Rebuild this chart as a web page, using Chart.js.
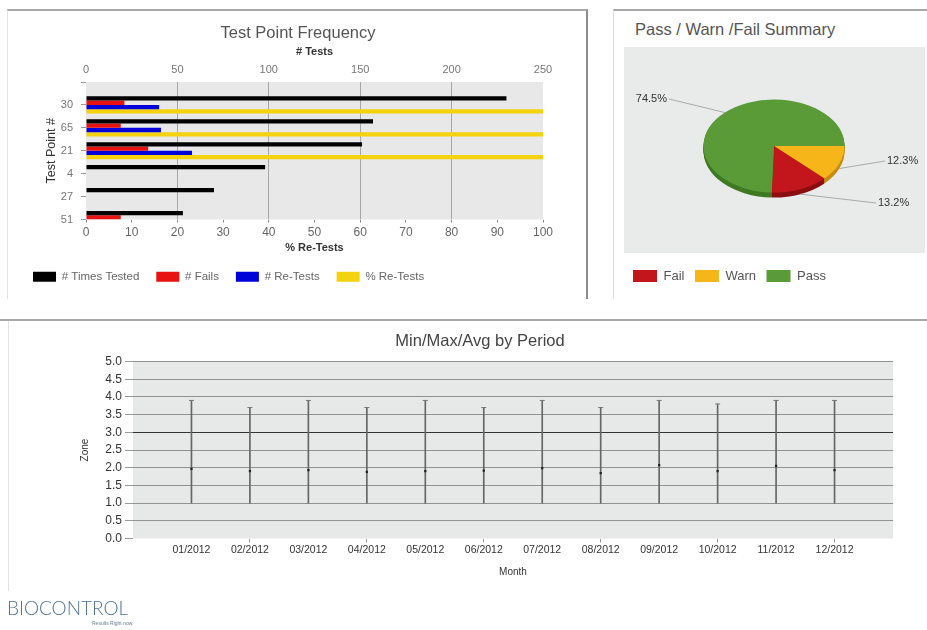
<!DOCTYPE html>
<html>
<head>
<meta charset="utf-8">
<script src="https://cdn.jsdelivr.net/npm/chart.js@4.4.1/dist/chart.umd.min.js"></script>
<style>
  html, body { margin: 0; padding: 0; }
  body { width: 927px; height: 630px; position: relative; background: #fff; overflow: hidden; font-family: "Liberation Sans", Arial, sans-serif; }
  .abs { position: absolute; }
</style>
</head>
<body>
<div class="abs" style="left:7px;top:9px;width:578px;height:288px;border-top:2px solid #a8a8a8;border-right:2px solid #8c8c8c;border-left:1px solid #e2e2e2;"></div>
<div class="abs" style="left:613px;top:9px;width:314px;height:288px;border-top:2px solid #a8a8a8;border-left:1px solid #dedede;"></div>
<div class="abs" style="left:0px;top:319px;width:927px;height:0px;border-top:2px solid #aaaaaa;"></div>
<div class="abs" style="left:8px;top:321px;width:0px;height:270px;border-left:1px solid #e2e2e2;"></div>
<div class="abs" style="left:624px;top:47px;width:301px;height:206px;background:#e9eaea;"></div>
<div class="abs" style="left:635px;top:19px;font-size:16.5px;line-height:20px;color:#555;white-space:nowrap;">Pass / Warn /Fail Summary</div>
<canvas id="c1" class="abs" style="left:8px;top:11px" width="578" height="288"></canvas>
<canvas id="c2" class="abs" style="left:614px;top:11px" width="313" height="290"></canvas>
<canvas id="c3" class="abs" style="left:8px;top:321px" width="919" height="279"></canvas>
<div class="abs" style="left:7px;top:597px;font-family:Lato,'Open Sans',sans-serif;font-weight:300;font-size:19px;line-height:22px;color:#4f7294;white-space:nowrap;">BIOCONTROL</div>
<div class="abs" style="left:92px;top:620px;font-size:5px;line-height:6px;color:#6a7f95;white-space:nowrap;">Results Right now.</div>
<script>
// ---------- Test Point Frequency ----------
const testPoints = ['30', '65', '21', '4', '27', '51'];
const timesTested = [230, 157, 151, 98, 70, 53];
const fails = [21, 19, 34, 0, 0, 19];
const reTests = [40, 41, 58, 0, 0, 0];
const pctReTests = [100, 100, 100, 0, 0, 0];

// ---------- Pass / Warn / Fail ----------
const pieLabels = ['Warn', 'Fail', 'Pass'];
const pieValues = [12.3, 13.2, 74.5];
const legendOrder = ['Fail', 'Warn', 'Pass'];

// ---------- Min/Max/Avg by Period ----------
const months = ['01/2012', '02/2012', '03/2012', '04/2012', '05/2012', '06/2012',
                '07/2012', '08/2012', '09/2012', '10/2012', '11/2012', '12/2012'];
const minZone = [1.0, 1.0, 1.0, 1.0, 1.0, 1.0, 1.0, 1.0, 1.0, 1.0, 1.0, 1.0];
const maxZone = [3.9, 3.7, 3.9, 3.7, 3.9, 3.7, 3.9, 3.7, 3.9, 3.8, 3.9, 3.9];
const avgZone = [1.97, 1.9, 1.93, 1.88, 1.9, 1.92, 1.99, 1.85, 2.07, 1.9, 2.05, 1.93];

Chart.defaults.font.family = '"Liberation Sans", Arial, sans-serif';
Chart.defaults.animation = false;

const plotBg = {
  id: 'plotBg',
  beforeDraw(chart, args, opts) {
    const { ctx, chartArea: a } = chart;
    ctx.save();
    ctx.fillStyle = opts.color || '#e8e8e8';
    ctx.fillRect(a.left, a.top, a.width, a.height);
    ctx.restore();
  }
};

const clear = 'rgba(0,0,0,0)';

new Chart(document.getElementById('c1'), {
  type: 'bar',
  data: {
    labels: [''].concat(testPoints),
    datasets: [
      { label: '# Times Tested', data: [null].concat(timesTested), backgroundColor: '#000000', xAxisID: 'x2' },
      { label: '# Fails', data: [null].concat(fails), backgroundColor: '#e81212', xAxisID: 'x2' },
      { label: '# Re-Tests', data: [null].concat(reTests), backgroundColor: '#0000d8', xAxisID: 'x2' },
      { label: '% Re-Tests', data: [null].concat(pctReTests), backgroundColor: '#f5d20e', xAxisID: 'x' }
    ]
  },
  options: {
    indexAxis: 'y',
    responsive: false,
    categoryPercentage: 0.75,
    barPercentage: 1,
    layout: { padding: { left: 8, right: 6, top: 12.1, bottom: 6.5 } },
    plugins: {
      title: { display: true, text: 'Test Point Frequency', font: { size: 16.5, weight: 'normal' }, color: '#555', padding: 0 },
      legend: { position: 'bottom', align: 'start',
        labels: { boxWidth: 23, boxHeight: 10, padding: 17, font: { size: 11.5 }, color: '#666' } },
      tooltip: { enabled: false },
      plotBg: { color: '#e8e8e8' }
    },
    scales: {
      y: {
        type: 'category', offset: false,
        grid: { offset: false, drawOnChartArea: false, tickLength: 5, tickColor: '#999' },
        border: { display: false },
        ticks: { padding: 8, font: { size: 11 }, color: '#777' },
        title: { display: true, text: 'Test Point #', font: { size: 12.5 }, color: '#333', padding: { top: 28, bottom: 0 } },
        afterFit: s => { s.width = 70; }
      },
      x2: {
        type: 'linear', position: 'top', min: 0, max: 250,
        ticks: { stepSize: 50, padding: 5.4, font: { size: 11 }, color: '#777' },
        grid: { drawTicks: false, color: c => (c.tick && (c.tick.value === 0 || c.tick.value === 250)) ? clear : '#a6a6a6' },
        border: { display: false },
        title: { display: true, text: '# Tests', font: { size: 11, weight: 'bold' }, color: '#333', padding: { top: 2.5, bottom: 0 } },
        afterFit: s => { s.height = 39.1; }
      },
      x: {
        type: 'linear', position: 'bottom', min: 0, max: 100,
        ticks: { stepSize: 10, padding: 2.8, font: { size: 12 }, color: '#666' },
        grid: { drawOnChartArea: false, tickLength: 3, tickColor: '#888' },
        border: { display: false },
        title: { display: true, text: '% Re-Tests', font: { size: 11, weight: 'bold' }, color: '#333', padding: { top: 0, bottom: -1 } },
        afterFit: s => { s.height = 34.5; }
      },
      yR: {
        type: 'linear', position: 'right', display: true,
        ticks: { display: false }, grid: { display: false }, border: { display: false },
        afterFit: s => { s.width = 37; }
      }
    }
  },
  plugins: [plotBg]
});

// ---------- Pie with tilt + depth ----------
const pie3d = {
  id: 'pie3d',
  beforeDatasetsDraw(chart, args, o) {
    const ctx = chart.ctx;
    const arcs = chart.getDatasetMeta(0).data;
    const cx = arcs[0].x, cy = arcs[0].y;
    ctx.save();
    for (let d = o.depth; d >= 1; d--) {
      ctx.save();
      ctx.translate(cx, cy + d);
      ctx.scale(1, o.tilt);
      ctx.translate(-cx, -cy);
      arcs.forEach((arc, i) => {
        const bg = arc.options.backgroundColor;
        arc.options.backgroundColor = o.sideColors[i];
        arc.draw(ctx);
        arc.options.backgroundColor = bg;
      });
      ctx.restore();
    }
    ctx.translate(cx, cy);
    ctx.scale(1, o.tilt);
    ctx.translate(-cx, -cy);
  },
  afterDatasetsDraw(chart, args, o) {
    const ctx = chart.ctx;
    ctx.restore();
    const arcs = chart.getDatasetMeta(0).data;
    const cx = arcs[0].x, cy = arcs[0].y;
    const vals = chart.data.datasets[0].data;
    ctx.save();
    arcs.forEach((arc, i) => {
      const mid = (arc.startAngle + arc.endAngle) / 2;
      const r = arc.outerRadius;
      const ax = cx + r * Math.cos(mid);
      const ay = cy + r * o.tilt * Math.sin(mid) + (Math.sin(mid) > 0.3 ? o.depth : 0);
      const L = o.labels[i];
      const tx = cx + L.dx, ty = cy + L.dy;
      ctx.strokeStyle = '#a9a9a9';
      ctx.lineWidth = 1;
      ctx.beginPath();
      ctx.moveTo(ax, ay);
      ctx.lineTo(tx + (L.align === 'left' ? -2 : 2), ty);
      ctx.stroke();
      ctx.fillStyle = '#333';
      ctx.font = '11px "Liberation Sans", Arial, sans-serif';
      ctx.textAlign = L.align;
      ctx.textBaseline = 'middle';
      ctx.fillText(vals[i].toFixed(1) + '%', tx, ty);
    });
    ctx.restore();
  }
};

new Chart(document.getElementById('c2'), {
  type: 'pie',
  data: {
    labels: pieLabels,
    datasets: [{ data: pieValues, backgroundColor: ['#f6b619', '#c2161c', '#5b9b37'], borderWidth: 0, radius: 70.5 }]
  },
  options: {
    responsive: false,
    rotation: 90,
    layout: { padding: { left: 8.5, right: 1.5, top: 22, bottom: 8.5 } },
    plugins: {
      legend: { position: 'bottom', align: 'start',
        labels: { boxWidth: 24, boxHeight: 12, padding: 10.5, font: { size: 13 }, color: '#555',
          sort: (a, b) => legendOrder.indexOf(a.text) - legendOrder.indexOf(b.text) } },
      tooltip: { enabled: false },
      pie3d: {
        tilt: 0.66, depth: 5,
        sideColors: ['#c58c0f', '#8c0e12', '#3f7a23'],
        labels: [
          { dx: 113, dy: 15, align: 'left' },
          { dx: 104, dy: 57, align: 'left' },
          { dx: -107, dy: -47, align: 'right' }
        ]
      }
    }
  },
  plugins: [pie3d]
});

// ---------- Min/Max/Avg by Period ----------
new Chart(document.getElementById('c3'), {
  type: 'bar',
  data: {
    labels: [''].concat(months, ['']),
    datasets: [
      { type: 'line', label: 'Avg', data: [null].concat(avgZone, [null]), showLine: false,
        pointStyle: 'rect', pointRadius: 1.6, backgroundColor: '#222', borderColor: '#222', borderWidth: 0, order: 0 },
      { type: 'line', label: 'Max', data: [null].concat(maxZone, [null]), showLine: false,
        pointStyle: 'line', pointRadius: 2.5, borderColor: '#777', borderWidth: 1, order: 1 },
      { type: 'bar', label: 'Min/Max', data: [null].concat(months.map((m, i) => [minZone[i], maxZone[i]]), [null]),
        backgroundColor: '#666666', barThickness: 1, order: 2 }
    ]
  },
  options: {
    responsive: false,
    layout: { padding: { left: 59, right: 34, top: 10.1, bottom: 18 } },
    plugins: {
      legend: { display: false },
      title: { display: true, text: 'Min/Max/Avg by Period', font: { size: 16.5, weight: 'normal' }, color: '#444', padding: { top: 0, bottom: 10.6 } },
      tooltip: { enabled: false },
      plotBg: { color: '#e7e8e8' }
    },
    scales: {
      x: {
        type: 'category', offset: false,
        grid: { offset: false, drawOnChartArea: false, tickLength: 4,
          tickColor: c => (c.index % 2 === 0 && c.index > 0 && c.index < 13) ? '#999' : clear },
        border: { display: false },
        ticks: { padding: 1.5, font: { size: 10.5 }, color: '#333', maxRotation: 0, autoSkip: false },
        title: { display: true, text: 'Month', font: { size: 10 }, color: '#333', padding: { top: 0, bottom: 4 } },
        afterFit: s => { s.height = 43.5; }
      },
      y: {
        min: 0, max: 5,
        ticks: { stepSize: 0.5, callback: v => Number(v).toFixed(1), padding: 3, font: { size: 12 }, color: '#333' },
        grid: { color: c => (c.tick && c.tick.value === 3) ? '#333' : (c.tick && c.tick.value === 0) ? clear : '#929292',
          tickLength: 8, tickColor: '#999' },
        border: { display: false },
        title: { display: true, text: 'Zone', font: { size: 10 }, color: '#333', padding: { top: 12, bottom: 0 } },
        afterFit: s => { s.width = 66; }
      }
    }
  },
  plugins: [plotBg]
});
</script>
</body>
</html>
